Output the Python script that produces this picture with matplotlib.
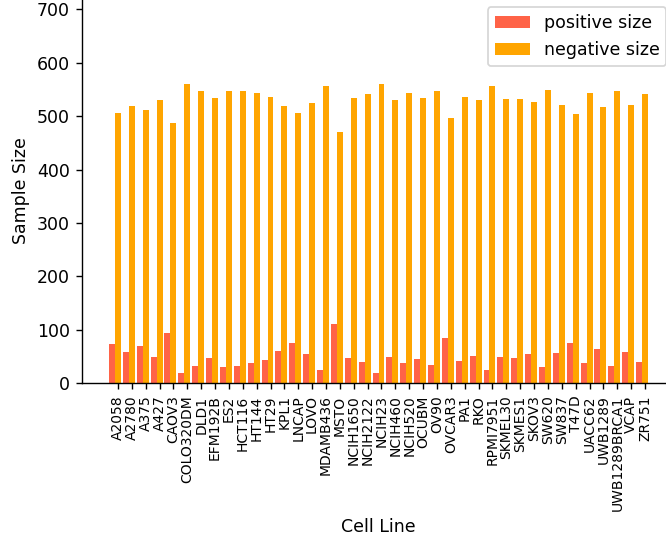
import numpy as np
import matplotlib
matplotlib.use("Agg")
from matplotlib import pyplot as plt

# Datos por linea celular
cell_lines = ["A2058", "A2780", "A375", "A427", "CAOV3", "COLO320DM", "DLD1",
              "EFM192B", "ES2", "HCT116", "HT144", "HT29", "KPL1", "LNCAP",
              "LOVO", "MDAMB436", "MSTO", "NCIH1650", "NCIH2122", "NCIH23",
              "NCIH460", "NCIH520", "OCUBM", "OV90", "OVCAR3", "PA1", "RKO",
              "RPMI7951", "SKMEL30", "SKMES1", "SKOV3", "SW620", "SW837",
              "T47D", "UACC62", "UWB1289", "UWB1289BRCA1", "VCAP", "ZR751"]

positive = [73, 58, 70, 49, 94, 19, 32, 47, 30, 32, 38, 43, 60, 75, 55, 25,
            111, 47, 40, 19, 49, 38, 45, 34, 84, 42, 51, 25, 49, 47, 55, 30,
            57, 75, 38, 64, 32, 58, 40]

negative = [506, 520, 511, 530, 487, 561, 547, 534, 548, 548, 543, 537, 519,
            506, 524, 556, 470, 534, 541, 560, 530, 543, 534, 547, 496, 537,
            530, 556, 532, 532, 526, 550, 522, 504, 543, 517, 548, 522, 541]


def main():
    x = np.arange(len(cell_lines))
    w = 0.43

    fig = plt.figure(figsize=(666 / 125, 546 / 125), dpi=125)
    ax = fig.add_axes([82 / 666, 162.7 / 546, 593 / 666, 384.5 / 546])

    ax.bar(x, positive, width=w, color="tomato", label="positive size")
    ax.bar(x + w, negative, width=w, color="orange", label="negative size")

    ax.set_xticks(x + w)
    ax.set_xticklabels(cell_lines, rotation=90, fontsize=8)
    ax.set_ylim(0, 720)
    ax.set_yticks(range(0, 701, 100))

    ax.spines["top"].set_visible(False)
    ax.spines["right"].set_visible(False)

    ax.set_xlabel("Cell Line")
    ax.set_ylabel("Sample Size")
    ax.legend(loc="upper right")

    fig.savefig("out.png", dpi=125)


if __name__ == "__main__":
    main()
